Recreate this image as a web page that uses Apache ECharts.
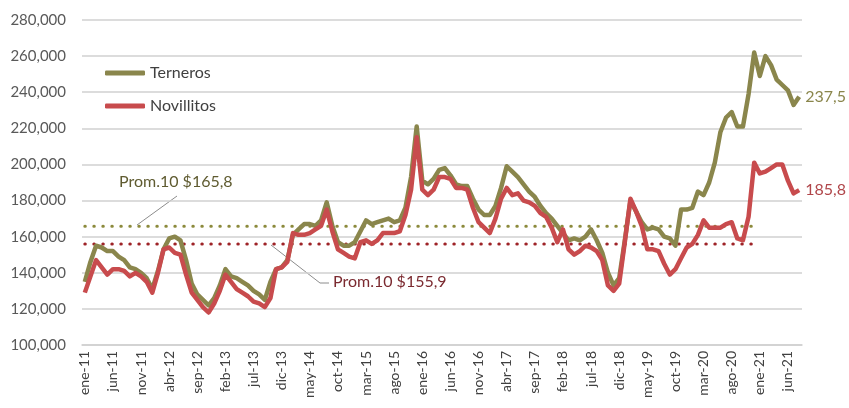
<!DOCTYPE html>
<html>
<head>
<meta charset="utf-8">
<script src="https://cdn.jsdelivr.net/npm/echarts@6/dist/echarts.min.js"></script>
<style>
  html, body { margin: 0; padding: 0; background: #fff; }
  #main { width: 849px; height: 408px; }
</style>
</head>
<body>
<div id="main"></div>
<script>
// meses ene-11 .. ago-21
var meses = ['ene','feb','mar','abr','may','jun','jul','ago','sep','oct','nov','dic'];
var anios = ['11','12','13','14','15','16','17','18','19','20','21'];
var ultimoMes = 8; // ago-21
var categorias = [];
for (var a = 0; a < anios.length; a++) {
	for (var m = 0; m < 12; m++) {
		if (a === anios.length - 1 && m >= ultimoMes) break;
		categorias.push(meses[m] + '-' + anios[a]);
	}
}

// Terneros ($)
var terneros = [
	135000,146000,155000,154000,152000,152000,149000,147000,143000,142000,
	140000,137000,131000,141000,153000,159000,160000,158000,147000,134000,
	128000,125000,122000,126000,133000,142000,138000,137000,135000,133000,
	130000,128000,125000,135000,142000,143000,147000,161000,164000,167000,
	167000,166000,169000,179000,166000,157000,155000,155000,157000,163000,
	169000,167000,168000,169000,170000,168000,169000,176000,193000,221000,
	191000,189000,192000,197000,198000,194000,189000,188000,188000,181000,
	175000,172000,172000,177000,187000,199000,196000,193000,189000,185000,
	182000,177000,173000,170000,166000,162000,158000,159000,158000,160000,
	164000,158000,151000,140000,133000,137000,158000,180000,174000,168000,
	164000,165000,164000,160000,159000,155000,175000,175000,176000,185000,
	183000,190000,201000,218000,226000,229000,221000,221000,239000,262000,
	249000,260000,255000,247000,244000,241000,233000,237500
];

// Novillitos ($)
var novillitos = [
	129000,138000,147000,143000,139000,142000,142000,141000,138000,140000,
	138000,135000,129000,140000,153000,154000,151000,150000,139000,129000,
	125000,121000,118000,123000,130000,139000,135000,131000,129000,127000,
	124000,123000,121000,126000,142000,143000,146000,162000,161000,161000,
	162000,164000,166000,175000,163000,153000,151000,149000,148000,157000,
	158000,156000,158000,162000,162000,162000,163000,172000,186000,215000,
	186000,183000,186000,193000,193000,192000,187000,187000,186000,176000,
	168000,165000,162000,170000,181000,187000,183000,184000,180000,179000,
	177000,173000,171000,165000,157000,164000,153000,150000,152000,155000,
	154000,152000,147000,133000,130000,134000,157000,181000,174000,166000,
	153000,153000,152000,145000,139000,142000,148000,154000,156000,161000,
	169000,165000,165000,165000,167000,168000,159000,158000,171000,201000,
	195000,196000,198000,200000,200000,191000,184000,185800
];

// promedios 10 años (ene-11 .. dic-20)
var promTerneros = 165800;
var promNovillitos = 155900;
var promMeses = 120;

var yTicks = { min: 100000, max: 280000, interval: 20000 };

function miles(v) {
	return (v / 1000).toFixed(1).replace('.', ',');
}

var myChart = echarts.init(document.getElementById('main'));

var colorT = '#8a864c';
var colorN = '#c84b4d';

var option = {
	animation: false,
	grid: { left: 82, right: 47, top: 20, bottom: 63 },
	legend: {
		data: ['Terneros', 'Novillitos'],
		orient: 'vertical',
		left: 100,
		top: 60,
		itemGap: 17,
		itemWidth: 40,
		itemHeight: 5,
		icon: 'roundRect',
		textStyle: { color: '#404040', fontSize: 16, fontFamily: 'Lato' }
	},
	xAxis: {
		type: 'category',
		data: categorias,
		boundaryGap: true,
		axisTick: { show: false },
		axisLine: { lineStyle: { color: '#d0d0d0', width: 1.5 } },
		axisLabel: {
			interval: 4,
			rotate: 90,
			margin: 6,
			color: '#404040',
			fontSize: 14,
			fontFamily: 'Lato'
		}
	},
	yAxis: {
		type: 'value',
		min: yTicks.min,
		max: yTicks.max,
		interval: yTicks.interval,
		axisLine: { show: false },
		axisTick: { show: false },
		splitLine: { lineStyle: { color: '#d0d0d0', width: 1.5 } },
		axisLabel: {
			margin: 16,
			color: '#595959',
			fontSize: 15,
			fontFamily: 'Lato',
			formatter: function (v) { return v.toLocaleString('en-US'); }
		}
	},
	series: [
		{
			name: 'Prom. Terneros',
			type: 'line',
			symbol: 'none',
			silent: true,
			data: categorias.map(function (c, i) { return i < promMeses ? promTerneros : '-'; }),
			lineStyle: { color: '#8c8a3c', width: 3, type: [0.5, 8.5], cap: 'round' }
		},
		{
			name: 'Prom. Novillitos',
			type: 'line',
			symbol: 'none',
			silent: true,
			data: categorias.map(function (c, i) { return i < promMeses ? promNovillitos : '-'; }),
			lineStyle: { color: '#9e2327', width: 3, type: [0.5, 8.5], cap: 'round' }
		},
		{
			name: 'Terneros',
			type: 'line',
			symbol: 'none',
			data: terneros,
			itemStyle: { color: colorT },
			lineStyle: { color: colorT, width: 4.5, join: 'round' },
			endLabel: {
				show: true,
				distance: 6,
				color: '#8a864c',
				fontSize: 16,
				fontFamily: 'Lato',
				formatter: function (p) { return miles(p.value); }
			}
		},
		{
			name: 'Novillitos',
			type: 'line',
			symbol: 'none',
			data: novillitos,
			itemStyle: { color: colorN },
			lineStyle: { color: colorN, width: 4.5, join: 'round' },
			endLabel: {
				show: true,
				distance: 6,
				color: '#b0464a',
				fontSize: 16,
				fontFamily: 'Lato',
				formatter: function (p) { return miles(p.value); }
			}
		}
	],
	graphic: [
		{
			type: 'polyline',
			shape: { points: [[177, 196], [137, 225]] },
			style: { stroke: '#8c8c8c', lineWidth: 1, fill: null },
			silent: true
		},
		{
			type: 'text',
			left: 119,
			top: 174,
			style: { text: 'Prom.10 $165,8', fill: '#5f5b30', fontSize: 16, fontFamily: 'Lato' }
		},
		{
			type: 'polyline',
			shape: { points: [[271, 245], [320, 283], [329, 283]] },
			style: { stroke: '#8c8c8c', lineWidth: 1, fill: null },
			silent: true
		},
		{
			type: 'text',
			left: 333,
			top: 274,
			style: { text: 'Prom.10 $155,9', fill: '#7b2a30', fontSize: 16, fontFamily: 'Lato' }
		}
	]
};
myChart.setOption(option);
</script>
</body>
</html>
